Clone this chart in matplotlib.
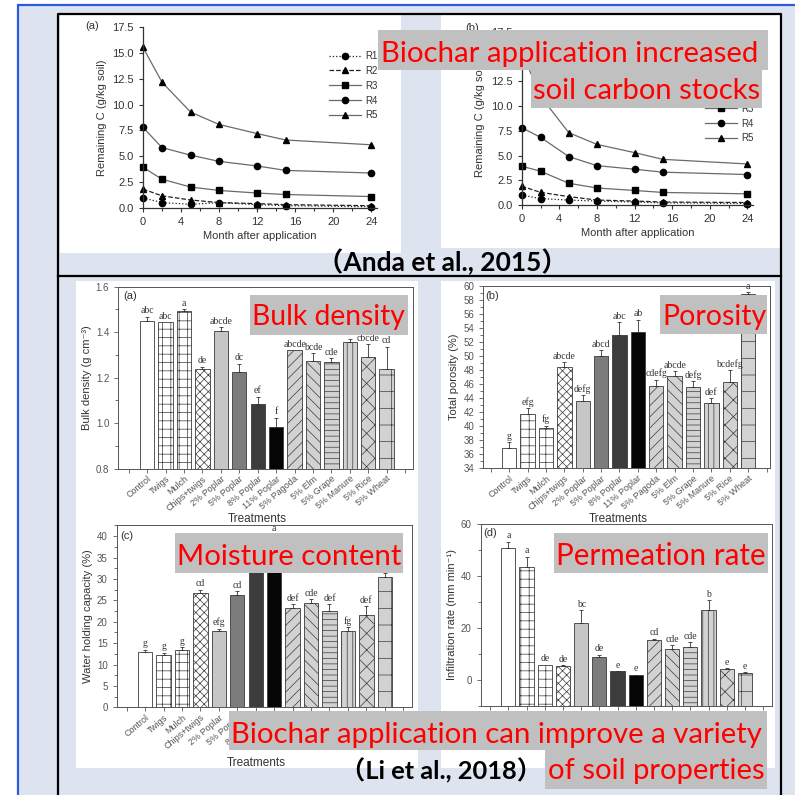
import matplotlib
matplotlib.use('Agg')
import matplotlib.pyplot as plt
import matplotlib.ticker as mticker
from matplotlib.patches import Rectangle
import numpy as np

plt.rcParams['font.family'] = ['Liberation Sans', 'DejaVu Sans']
plt.rcParams['hatch.linewidth'] = 0.5

W = H = 795

# ---------------- data: Anda et al. 2015 ----------------
months = [0, 2, 5, 8, 12, 15, 24]
series_names = ['R1', 'R2', 'R3', 'R4', 'R5']
a_R1 = [1.0, 0.55, 0.38, 0.55, 0.35, 0.25, 0.15]
a_R2 = [1.85, 1.2, 0.8, 0.55, 0.45, 0.35, 0.25]
a_R3 = [3.95, 2.8, 2.05, 1.72, 1.47, 1.33, 1.13]
a_R4 = [7.8, 5.85, 5.12, 4.52, 4.08, 3.65, 3.4]
a_R5 = [15.5, 12.15, 9.27, 8.08, 7.2, 6.58, 6.12]
b_R1 = [1.0, 0.65, 0.5, 0.4, 0.3, 0.22, 0.15]
b_R2 = [1.9, 1.28, 0.85, 0.5, 0.4, 0.3, 0.25]
b_R3 = [3.92, 3.42, 2.2, 1.72, 1.47, 1.27, 1.13]
b_R4 = [7.82, 6.85, 4.9, 3.98, 3.62, 3.32, 3.08]
b_R5 = [15.5, 11.0, 7.32, 6.13, 5.3, 4.62, 4.15]
month_ticks = [0, 4, 8, 12, 16, 20, 24]
carbon_ticks = [0.0, 2.5, 5.0, 7.5, 10.0, 12.5, 15.0, 17.5]

# ---------------- data: Li et al. 2018 ----------------
treatments = ['Control', 'Twigs', 'Mulch', 'Chips+twigs', '2% Poplar', '5% Poplar',
              '8% Poplar', '11% Poplar', '5% Pagoda', '5% Elm', '5% Grape',
              '5% Manure', '5% Rice', '5% Wheat']
bulk = [1.45, 1.445, 1.493, 1.237, 1.407, 1.226, 1.084, 0.982, 1.32, 1.273, 1.267, 1.357, 1.289, 1.24]
bulk_err = [0.018, 0.0, 0.008, 0.012, 0.014, 0.036, 0.032, 0.042, 0.0, 0.034, 0.018, 0.015, 0.057, 0.096]
bulk_sig = ['abc', 'abc', 'a', 'de', 'abcde', 'dc', 'ef', 'f', 'abcde', 'bcde', 'cde', 'ab', 'cbcde', 'cd']

porosity = [36.95, 41.75, 39.8, 48.4, 43.55, 50.05, 52.95, 53.4, 45.8, 47.1, 45.6, 43.3, 46.3, 58.8]
porosity_err = [0.8, 0.8, 0.25, 0.75, 0.9, 0.8, 1.9, 1.8, 0.85, 0.75, 0.85, 0.7, 1.7, 0.3]
porosity_sig = ['g', 'efg', 'fg', 'abcde', 'defg', 'abcd', 'abc', 'ab', 'cdefg', 'abcde', 'defg', 'def', 'bcdefg', 'a']

water = [13.0, 12.2, 13.5, 26.7, 17.8, 26.2, 36.0, 39.5, 23.3, 24.3, 22.6, 17.8, 21.6, 30.5]
water_err = [0.5, 0.6, 0.5, 0.8, 0.6, 1.0, 1.2, 1.0, 0.8, 1.0, 1.5, 0.9, 2.0, 0.8]
water_sig = ['g', 'g', 'g', 'cd', 'efg', 'cd', 'ab', 'a', 'def', 'cde', 'def', 'fg', 'def', 'bc']

infil = [50.9, 43.4, 5.9, 5.5, 21.9, 8.7, 3.3, 1.9, 15.5, 11.9, 12.8, 26.9, 4.2, 2.7]
infil_err = [2.3, 4.0, 0.0, 0.3, 5.0, 1.0, 0.1, 0.1, 0.4, 1.5, 1.7, 3.9, 0.3, 0.2]
infil_sig = ['a', 'a', 'de', 'de', 'bc', 'de', 'e', 'e', 'cd', 'cde', 'cde', 'b', 'e', 'e']

# ---------------- styles ----------------
bar_fill = ['white', 'white', 'white', 'white', '#c6c6c6', '#7c7c7c', '#3c3c3c', '#050505',
            '#d2d2d2', '#d2d2d2', '#d2d2d2', '#d2d2d2', '#d2d2d2', '#d2d2d2']
bar_hatch = [None, '++', '++', 'xxxx', None, None, None, None,
             '///', '\\\\\\', '---', '|||', 'xx', '+']
anda_styles = [(':', 'o', '#222222'), ('--', '^', '#222222'), ('-', 's', '#6a6a6a'),
               ('-', 'o', '#6a6a6a'), ('-', '^', '#6a6a6a')]

fig = plt.figure(figsize=(W / 100, H / 100), dpi=100)
fig.patch.set_facecolor('white')


def px_axes(x0, y0, x1, y1, z=1):
    ax = fig.add_axes([x0 / W, 1 - y1 / H, (x1 - x0) / W, (y1 - y0) / H])
    ax.set_zorder(z)
    ax.patch.set_visible(False)
    return ax


def fpos(x, y):
    return x / W, 1 - y / H


# ---------------- background ----------------
bg = fig.add_axes([0, 0, 1, 1])
bg.set_zorder(0)
bg.set_xlim(0, W)
bg.set_ylim(H, 0)
bg.axis('off')
bg.add_patch(Rectangle((17, 5), W, H, facecolor='#dde4ef', edgecolor='none'))
bg.plot([17, W], [5, 5], color='#2a5be0', lw=1.6, solid_capstyle='butt')
bg.plot([17.5, 17.5], [5, H], color='#2a5be0', lw=1.6, solid_capstyle='butt')
for (x0, y0, x1, y1) in [(60, 15, 401, 253), (441, 15, 780, 248), (76, 281, 418, 768), (441, 281, 775, 768)]:
    bg.add_patch(Rectangle((x0, y0), x1 - x0, y1 - y0, facecolor='white', edgecolor='none'))
bg.plot([57.5, 57.5, 781, 781], [H + 5, 14, 14, H + 5], color='black', lw=1.6)
bg.plot([57.5, 781], [276, 276], color='black', lw=1.6)


# ---------------- Anda panels ----------------
def anda_panel(box, vals, tag, tagxy, leg_xy):
    ax = px_axes(*box)
    lines = []
    for v, (ls, mk, lc) in zip(vals, anda_styles):
        ln, = ax.plot(months, v, ls=ls, marker=mk, color=lc, mfc='black', mec='black',
                      ms=4.5, lw=0.9, clip_on=False)
        lines.append(ln)
    ax.set_xlim(0, 24.6)
    ax.set_ylim(0, 17.5)
    ax.set_xticks(month_ticks)
    ax.xaxis.set_minor_locator(mticker.MultipleLocator(2))
    ax.set_yticks(carbon_ticks)
    ax.yaxis.set_major_formatter(mticker.FormatStrFormatter('%.1f'))
    for s in ['top', 'right']:
        ax.spines[s].set_visible(False)
    for s in ['left', 'bottom']:
        ax.spines[s].set_color('#333333')
        ax.spines[s].set_linewidth(0.9)
    ax.tick_params(which='both', colors='#333333', labelsize=8, length=3, width=0.8)
    ax.tick_params(which='minor', length=2)
    ax.set_xlabel('Month after application', fontsize=8, color='#333333', labelpad=3)
    ax.set_ylabel('Remaining C (g/kg soil)', fontsize=8, color='#333333', labelpad=4)
    ax.text(*fpos(*tagxy), tag, transform=fig.transFigure, fontsize=8, color='#333333',
            ha='left', va='center')
    ax.legend(lines, series_names, loc='upper left', bbox_to_anchor=fpos(*leg_xy),
              bbox_transform=fig.transFigure, frameon=False, fontsize=7, handlelength=3.3,
              handletextpad=0.4, labelspacing=0.5, borderpad=0, borderaxespad=0,
              labelcolor='#333333')
    return ax


anda_panel((143, 26.7, 377, 208.3), [a_R1, a_R2, a_R3, a_R4, a_R5], '(a)', (85, 26), (329, 51))
anda_panel((521.7, 32, 753, 205), [b_R1, b_R2, b_R3, b_R4, b_R5], '(b)', (465, 28), (705, 74))


# ---------------- Li panels ----------------
def li_panel(box, xlim, ylim, vals, errs, sigs, yticks, fmt, ylabel, tag, tagxy, xlab_y,
             bottom=None, show_x=True):
    ax = px_axes(*box)
    base = ylim[0] if bottom is None else bottom
    xs = np.arange(1, len(treatments) + 1)
    for x, v, e, s, fc, ht in zip(xs, vals, errs, sigs, bar_fill, bar_hatch):
        ax.bar(x, v - base, bottom=base, width=0.78, facecolor=fc, edgecolor='#3a3a3a',
               hatch=ht, lw=0.6, zorder=2)
        if e > 0:
            ax.errorbar([x], [v], yerr=[[0], [e]], fmt='none', ecolor='#333333',
                        elinewidth=0.6, capsize=1.6, capthick=0.6, zorder=3)
        ax.annotate(s, (x, v + e), xytext=(0, 1), textcoords='offset points',
                    ha='center', va='bottom', fontsize=7, family='Liberation Serif',
                    color='#333333')
    ax.set_xlim(*xlim)
    ax.set_ylim(*ylim)
    ax.set_xticks(np.arange(0, 16))
    if show_x:
        ax.set_xticklabels([''] + treatments + [''], rotation=40, ha='right',
                           rotation_mode='anchor', fontsize=6.5, color='#444444')
    else:
        ax.set_xticklabels([''] * 16)
    ax.set_yticks(yticks)
    ax.yaxis.set_major_formatter(mticker.FormatStrFormatter(fmt))
    ax.yaxis.set_minor_locator(mticker.AutoMinorLocator(2))
    for s in ax.spines.values():
        s.set_color('#555555')
        s.set_linewidth(0.7)
    ax.tick_params(which='both', colors='#555555', labelsize=7, length=3, width=0.6)
    ax.tick_params(axis='x', pad=1, labelsize=6.5)
    ax.tick_params(which='minor', length=2)
    if xlab_y is not None:
        ax.set_xlabel('Treatments', fontsize=8.5, color='#333333', va='center')
        ax.xaxis.set_label_coords(*fpos((box[0] + box[2]) / 2 - 8, xlab_y), transform=fig.transFigure)
    ax.set_ylabel(ylabel, fontsize=8, color='#333333', labelpad=3)
    ax.text(*fpos(*tagxy), tag, transform=fig.transFigure, fontsize=8, color='#333333',
            ha='left', va='center')
    return ax


li_panel((118.3, 286.7, 413, 468.7), (-0.57, 15.43), (0.8, 1.6), bulk, bulk_err, bulk_sig,
         [0.8, 1.0, 1.2, 1.4, 1.6], '%.1f', 'Bulk density (g cm⁻³)', '(a)', (123, 296), 519)
li_panel((483.3, 286, 770, 468.3), (-0.41, 15.19), (34, 60), porosity, porosity_err, porosity_sig,
         list(range(34, 61, 2)), '%d', 'Total porosity (%)', '(b)', (485, 296), 519)
li_panel((116.7, 525, 411.7, 707.3), (-0.54, 15.46), (0, 42.6), water, water_err, water_sig,
         list(range(0, 41, 5)), '%d', 'Water holding capacity (%)', '(c)', (120, 536), 763)
li_panel((480.7, 524, 771.7, 706), (-0.52, 15.47), (-10, 60), infil, infil_err, infil_sig,
         [0, 20, 40, 60], '%d', 'Infiltration rate (mm min⁻¹)', '(d)', (483, 533), None,
         show_x=False)

# ---------------- overlay annotations ----------------
ov = fig.add_axes([0, 0, 1, 1])
ov.set_zorder(5)
ov.set_xlim(0, W)
ov.set_ylim(H, 0)
ov.axis('off')
ov.patch.set_visible(False)

for (x0, y0, x1, y1) in [(378, 30, 768, 70), (531, 70, 762, 108), (250, 295, 408, 335),
                         (660, 295, 767, 334), (175, 533, 403, 573), (554, 533, 768, 573),
                         (229, 711, 767, 750), (545, 750, 767, 789)]:
    ov.add_patch(Rectangle((x0, y0), x1 - x0, y1 - y0, facecolor='#c0c0c0', edgecolor='none'))

renderer = fig.canvas.get_renderer()


def fit_text(x, y, s, width, **kw):
    t = ov.text(x, y, s, fontsize=20, ha='left', va='baseline', **kw)
    w = t.get_window_extent(renderer).width
    t.set_fontsize(20 * width / w)
    return t


red = dict(color='#ff0000', family=['Lato', 'DejaVu Sans'])
blk = dict(color='black', family=['Lato', 'Noto Sans CJK SC', 'DejaVu Sans'], fontweight='bold')
fit_text(381, 62, 'Biochar application increased', 378, **red)
fit_text(533, 99, 'soil carbon stocks', 227, **red)
fit_text(252, 325, 'Bulk density', 153, **red)
fit_text(662, 325, 'Porosity', 104, **red)
fit_text(177, 565, 'Moisture content', 225, **red)
fit_text(556, 565, 'Permeation rate', 210, **red)
fit_text(231, 743, 'Biochar application can improve a variety', 532, **red)
fit_text(548, 779, 'of soil properties', 217, **red)
fit_text(317, 271, '（Anda et al., 2015）', 251, **blk)
fit_text(340, 779, '（Li et al., 2018）', 202, **blk)

fig.savefig('out.png', dpi=100, facecolor=fig.get_facecolor())
